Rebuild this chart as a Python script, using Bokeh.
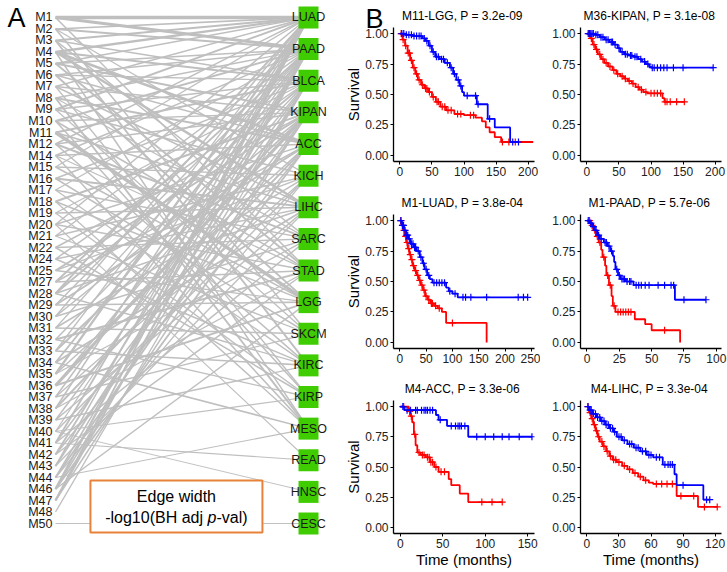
import numpy as np
from bokeh.plotting import figure
from bokeh.layouts import row, column
from bokeh.models import Range1d, Label, FixedTicker, GridBox, Title
from bokeh.embed import file_html
from bokeh.resources import INLINE
from bokeh.core.properties import value

FONT = "Liberation Sans"

# ---------------- Panel A data ----------------
modules = ["M1", "M2", "M3", "M4", "M5", "M6", "M7", "M8", "M9", "M10", "M11", "M12",
           "M14", "M15", "M16", "M17", "M18", "M19", "M20", "M21", "M22", "M24", "M25",
           "M27", "M28", "M29", "M30", "M31", "M32", "M33", "M34", "M35", "M36", "M37",
           "M38", "M39", "M40", "M41", "M42", "M43", "M44", "M46", "M47", "M48", "M50"]
cancers = ["LUAD", "PAAD", "BLCA", "KIPAN", "ACC", "KICH", "LIHC", "SARC", "STAD",
           "LGG", "SKCM", "KIRC", "KIRP", "MESO", "READ", "HNSC", "CESC"]

edge_module = (
    ["M1", "M2", "M3", "M4", "M5", "M7", "M9", "M12", "M15", "M20", "M28", "M30", "M33", "M35", "M38", "M41", "M43", "M46", "M47"]
    + ["M1", "M2", "M5", "M6", "M8", "M10", "M14", "M17", "M21", "M27", "M29", "M31", "M34", "M37", "M40", "M42", "M44", "M47"]
    + ["M3", "M4", "M6", "M9", "M11", "M16", "M19", "M24", "M28", "M32", "M36", "M39", "M43", "M46", "M48"]
    + ["M5", "M7", "M10", "M12", "M18", "M22", "M25", "M30", "M33", "M36", "M41", "M44", "M47"]
    + ["M4", "M6", "M8", "M14", "M20", "M27", "M29", "M35", "M38", "M42", "M46"]
    + ["M2", "M9", "M15", "M21", "M25", "M31", "M37", "M40", "M44"]
    + ["M4", "M7", "M11", "M16", "M19", "M24", "M28", "M34", "M39", "M43"]
    + ["M3", "M8", "M12", "M17", "M22", "M30", "M35", "M41"]
    + ["M1", "M5", "M10", "M14", "M20", "M27", "M32", "M38", "M42"]
    + ["M11", "M6", "M15", "M18", "M25", "M29", "M36", "M46"]
    + ["M2", "M9", "M16", "M21", "M31", "M37"]
    + ["M3", "M12", "M17", "M24", "M28", "M33", "M39"]
    + ["M7", "M10", "M19", "M22", "M32", "M40"]
    + ["M4", "M8", "M14", "M18", "M34", "M44"]
    + ["M20", "M41"]
    + ["M40"]
    + ["M50"]
)
edge_cancer = (["LUAD"] * 19 + ["PAAD"] * 18 + ["BLCA"] * 15 + ["KIPAN"] * 13 + ["ACC"] * 11
               + ["KICH"] * 9 + ["LIHC"] * 10 + ["SARC"] * 8 + ["STAD"] * 9 + ["LGG"] * 8
               + ["SKCM"] * 6 + ["KIRC"] * 7 + ["KIRP"] * 6 + ["MESO"] * 6 + ["READ"] * 2
               + ["HNSC"] * 1 + ["CESC"] * 1)
edge_neglog10p = (
    [9.5, 4, 5, 6, 3.5, 4, 5, 4, 3.5, 4, 5, 4, 3.5, 6, 4, 5, 4, 6, 5]
    + [8, 5, 4, 4, 3.5, 5, 4, 3.5, 4, 5, 4, 3.5, 5, 4, 3.5, 5, 4, 6]
    + [4, 5, 3.5, 4, 5, 4, 3.5, 4, 5, 4, 3.5, 4, 5, 4, 3.5]
    + [5, 4, 3.5, 4, 5, 4, 5, 4, 5, 8.5, 4, 5, 4]
    + [7, 4, 5, 4, 3.5, 4, 5, 4, 5, 4, 5]
    + [3.5, 4, 3.5, 4, 3.5, 4, 3.5, 4, 3.5]
    + [6.5, 4, 4, 5, 4, 3.5, 4, 5, 4, 3.5]
    + [4, 3.5, 5, 4, 3.5, 4, 3.5, 4]
    + [4, 5, 4, 3.5, 4, 4, 5, 3.5, 4]
    + [9, 5, 4, 4, 3.5, 4, 5, 4]
    + [4, 3.5, 4, 3.5, 4, 3.5]
    + [5, 4, 3.5, 4, 3.5, 4, 3.5]
    + [3.5, 4, 3.5, 4, 3.5, 3]
    + [4, 5, 4, 3.5, 4, 3]
    + [3, 3]
    + [2.5]
    + [2.5]
)

# ---------------- Panel B data (Kaplan-Meier) ----------------
km_titles = ["M11-LGG, P =  3.2e-09", "M36-KIPAN, P =  3.1e-08", "M1-LUAD, P =  3.8e-04",
             "M1-PAAD, P =  5.7e-06", "M4-ACC, P =  3.3e-06", "M4-LIHC, P =  3.3e-04"]
km_xticks = [[0, 50, 100, 150, 200], [0, 50, 100, 150, 200], [0, 50, 100, 150, 200, 250],
             [0, 25, 50, 75, 100], [0, 50, 100, 150], [0, 30, 60, 90, 120]]
km_xrange = [(-10, 210), (-10, 210), (-12, 256), (-5, 104), (-8, 158), (-6, 126)]

# M11-LGG
lgg_blue_t = [0, 8, 20, 35, 40, 45, 50, 55, 62, 70, 78, 83, 88, 93, 97, 100, 120, 137, 148, 172, 185]
lgg_blue_s = [1.0, 0.99, 0.98, 0.96, 0.94, 0.90, 0.85, 0.81, 0.79, 0.76, 0.72, 0.67, 0.62, 0.57, 0.52, 0.49, 0.42, 0.30, 0.23, 0.11, 0.11]
lgg_blue_c = [3, 6, 10, 14, 18, 22, 26, 30, 33, 38, 42, 47, 52, 57, 60, 65, 68, 74, 80, 85, 91, 95, 105, 118, 122, 140, 176, 185]
lgg_red_t = [0, 4, 8, 12, 16, 20, 24, 28, 33, 38, 44, 50, 56, 63, 72, 85, 100, 118, 128, 134, 140, 148, 158, 208]
lgg_red_s = [1.0, 0.95, 0.90, 0.84, 0.78, 0.72, 0.67, 0.62, 0.58, 0.55, 0.52, 0.48, 0.44, 0.40, 0.37, 0.34, 0.33, 0.31, 0.28, 0.23, 0.19, 0.15, 0.11, 0.11]
lgg_red_c = [2, 5, 9, 13, 15, 18, 22, 26, 30, 35, 40, 42, 46, 52, 58, 60, 66, 70, 75, 80, 90, 95, 110, 115, 160, 170, 180]

# M36-KIPAN
kipan_blue_t = [0, 12, 20, 28, 35, 42, 48, 52, 58, 65, 72, 80, 86, 92, 97, 100, 197]
kipan_blue_s = [1.0, 0.99, 0.97, 0.95, 0.93, 0.91, 0.88, 0.85, 0.83, 0.82, 0.81, 0.79, 0.77, 0.75, 0.73, 0.72, 0.72]
kipan_blue_c = [2, 4, 6, 8, 10, 14, 17, 22, 25, 30, 33, 38, 40, 44, 50, 55, 60, 63, 68, 70, 75, 78, 84, 90, 95, 102, 105, 110, 115, 120, 125, 135, 150, 197]
kipan_red_t = [0, 5, 9, 13, 17, 22, 27, 33, 40, 46, 52, 58, 64, 70, 76, 82, 88, 94, 118, 121, 152]
kipan_red_s = [1.0, 0.96, 0.91, 0.87, 0.83, 0.79, 0.76, 0.73, 0.70, 0.67, 0.65, 0.63, 0.61, 0.59, 0.56, 0.54, 0.52, 0.51, 0.47, 0.44, 0.44]
kipan_red_c = [3, 7, 11, 15, 20, 25, 30, 36, 42, 48, 55, 60, 66, 72, 80, 85, 92, 100, 105, 110, 115, 122, 125, 130, 140, 152]

# M1-LUAD
luad_blue_t = [0, 4, 8, 12, 16, 20, 26, 32, 38, 43, 47, 52, 57, 62, 88, 93, 100, 110, 243]
luad_blue_s = [1.0, 0.96, 0.92, 0.88, 0.85, 0.81, 0.78, 0.75, 0.70, 0.65, 0.60, 0.55, 0.52, 0.49, 0.45, 0.42, 0.40, 0.37, 0.37]
luad_blue_c = [2, 5, 7, 10, 13, 15, 18, 22, 25, 28, 30, 35, 40, 45, 50, 55, 65, 70, 75, 80, 85, 95, 105, 120, 125, 135, 165, 225, 235, 243]
luad_red_t = [0, 3, 6, 9, 12, 15, 18, 21, 24, 28, 32, 36, 40, 44, 48, 53, 58, 65, 72, 80, 88, 165]
luad_red_s = [1.0, 0.96, 0.92, 0.87, 0.82, 0.77, 0.72, 0.68, 0.63, 0.59, 0.55, 0.51, 0.47, 0.43, 0.38, 0.35, 0.32, 0.30, 0.28, 0.25, 0.16, 0.0]
luad_red_c = [2, 5, 8, 11, 14, 17, 20, 23, 26, 30, 34, 38, 42, 46, 50, 55, 60, 62, 68, 75, 100]

# M1-PAAD
paad_blue_t = [0, 2, 4, 6, 8, 10, 13, 16, 18, 20, 21, 22, 24, 26, 30, 36, 68, 92]
paad_blue_s = [1.0, 0.98, 0.95, 0.92, 0.88, 0.85, 0.82, 0.79, 0.75, 0.71, 0.66, 0.60, 0.55, 0.52, 0.50, 0.47, 0.35, 0.35]
paad_blue_c = [1, 3, 5, 7, 9, 11, 14, 15, 17, 19, 23, 25, 27, 28, 29, 31, 33, 34, 38, 40, 42, 45, 48, 55, 60, 65, 67, 75, 92]
paad_red_t = [0, 3, 5, 7, 9, 11, 12, 14, 15, 17, 19, 20, 22, 37, 45, 50, 72]
paad_red_s = [1.0, 0.96, 0.92, 0.87, 0.82, 0.76, 0.70, 0.63, 0.55, 0.47, 0.38, 0.30, 0.25, 0.19, 0.15, 0.10, 0.0]
paad_red_c = [2, 4, 6, 8, 10, 13, 16, 18, 21, 24, 26, 28, 30, 32, 34, 60]

# M4-ACC
acc_blue_t = [0, 5, 42, 45, 55, 80, 155]
acc_blue_s = [1.0, 0.97, 0.93, 0.89, 0.84, 0.75, 0.75]
acc_blue_c = [3, 8, 12, 18, 20, 25, 28, 30, 32, 35, 38, 47, 60, 65, 68, 70, 72, 76, 90, 100, 110, 120, 128, 140, 155]
acc_red_t = [0, 10, 12, 14, 16, 18, 20, 24, 30, 35, 40, 45, 57, 60, 70, 80, 120]
acc_red_s = [1.0, 0.96, 0.92, 0.87, 0.77, 0.68, 0.62, 0.60, 0.58, 0.54, 0.50, 0.46, 0.40, 0.35, 0.28, 0.21, 0.21]
acc_red_c = [4, 11, 13, 17, 22, 26, 28, 32, 34, 36, 38, 42, 48, 52, 96, 108, 120]

# M4-LIHC
lihc_blue_t = [0, 2, 5, 9, 13, 17, 21, 25, 28, 33, 38, 44, 50, 56, 62, 71, 82, 84, 109, 115]
lihc_blue_s = [1.0, 0.97, 0.94, 0.91, 0.88, 0.85, 0.82, 0.79, 0.75, 0.72, 0.69, 0.66, 0.63, 0.60, 0.58, 0.52, 0.44, 0.35, 0.23, 0.23]
lihc_blue_c = [1, 3, 4, 6, 8, 10, 12, 14, 16, 18, 20, 22, 24, 26, 30, 32, 35, 40, 42, 46, 48, 52, 55, 58, 60, 65, 68, 73, 76, 78, 80, 90, 112, 115]
lihc_red_t = [0, 2, 4, 6, 8, 10, 12, 15, 18, 21, 24, 28, 33, 38, 43, 48, 53, 58, 62, 84, 104, 122]
lihc_red_s = [1.0, 0.95, 0.90, 0.85, 0.80, 0.75, 0.71, 0.67, 0.63, 0.59, 0.56, 0.54, 0.51, 0.48, 0.45, 0.42, 0.39, 0.37, 0.36, 0.26, 0.17, 0.17]
lihc_red_c = [1, 3, 5, 7, 9, 11, 14, 16, 19, 22, 25, 27, 30, 35, 40, 45, 50, 55, 65, 70, 75, 80, 88, 100, 110, 122]

km_data = [
    (lgg_blue_t, lgg_blue_s, lgg_blue_c, lgg_red_t, lgg_red_s, lgg_red_c),
    (kipan_blue_t, kipan_blue_s, kipan_blue_c, kipan_red_t, kipan_red_s, kipan_red_c),
    (luad_blue_t, luad_blue_s, luad_blue_c, luad_red_t, luad_red_s, luad_red_c),
    (paad_blue_t, paad_blue_s, paad_blue_c, paad_red_t, paad_red_s, paad_red_c),
    (acc_blue_t, acc_blue_s, acc_blue_c, acc_red_t, acc_red_s, acc_red_c),
    (lihc_blue_t, lihc_blue_s, lihc_blue_c, lihc_red_t, lihc_red_s, lihc_red_c),
]

# ---------------- Panel A ----------------
H = 572
WA = 337
EDGE_COLOR = "#bfbfbf"
NODE_COLOR = "#3fcc00"

pA = figure(width=WA, height=H, x_range=Range1d(-0.2174, 1.1146), y_range=Range1d(48.26, -1.478),
            output_backend="svg", toolbar_location=None, x_axis_location=None,
            y_axis_location=None, min_border=0)
pA.grid.visible = False
pA.outline_line_color = None

mod_y = {m: i for i, m in enumerate(modules)}
node_y = {c: j * (len(modules) - 1) / (len(cancers) - 1) for j, c in enumerate(cancers)}

ey0 = [mod_y[m] for m in edge_module]
ey1 = [node_y[c] for c in edge_cancer]
lw = [0.38 * v for v in edge_neglog10p]
pA.segment(x0=[0] * len(ey0), y0=ey0, x1=[1] * len(ey1), y1=ey1,
           line_color=EDGE_COLOR, line_width=lw)

ny = [node_y[c] for c in cancers]
pA.rect(x=[1] * len(cancers), y=ny, width=20, height=22, width_units="screen",
        height_units="screen", fill_color=NODE_COLOR, line_color=None)
pA.text(x=[1] * len(cancers), y=ny, text=cancers, text_align="center",
        text_baseline="middle", text_font=value(FONT), text_font_size="12.5px",
        text_color="#1a1a1a")
pA.text(x=[0] * len(modules), y=list(range(len(modules))), text=modules, x_offset=-3,
        text_align="right", text_baseline="middle", text_font=value(FONT),
        text_font_size="12.5px", text_color="#1a1a1a")

# legend box
bx = 0.478
pA.rect(x=[bx], y=[42.52], width=172, height=52, width_units="screen", height_units="screen",
        fill_color="white", line_color="#e8823a", line_width=2)
pA.text(x=[bx], y=[41.62], text=["Edge width"], text_align="center", text_baseline="middle",
        text_font=value(FONT), text_font_size="16px", text_color="black")
pA.text(x=[bx], y=[43.45], text=["-log10(BH adj "], x_offset=31, text_align="right",
        text_baseline="middle", text_font=value(FONT), text_font_size="16px", text_color="black")
pA.text(x=[bx], y=[43.45], text=["p"], x_offset=35.6, text_align="center",
        text_baseline="middle", text_font=value(FONT), text_font_size="16px",
        text_font_style="italic", text_color="black")
pA.text(x=[bx], y=[43.45], text=["-val)"], x_offset=40, text_align="left",
        text_baseline="middle", text_font=value(FONT), text_font_size="16px", text_color="black")

pA.add_layout(Label(x=-0.2174, y=-1.478, x_offset=7, y_offset=-2, text="A", text_baseline="top",
                    text_align="left", text_font=FONT, text_font_size="27px", text_color="black"))


# ---------------- Panel B ----------------
def step_value(t, s, c):
    idx = np.searchsorted(np.asarray(t), np.asarray(c), side="right") - 1
    return list(np.asarray(s)[idx])


KM_W = [203, 187]
KM_H = [187, 187, 198]


def km_fig(k):
    col = k % 2
    r = k // 2
    p = figure(width=KM_W[col], height=KM_H[r], x_range=Range1d(*km_xrange[k]),
               y_range=Range1d(-0.05, 1.05), output_backend="svg", toolbar_location=None,
               min_border_left=56 if col == 0 else 40, min_border_right=6,
               min_border_top=[27, 27, 25][r], min_border_bottom=[26, 26, 39][r],
               title=km_titles[k])
    p.title.align = "center"
    p.title.text_font = FONT
    p.title.text_font_size = "12px"
    p.title.text_font_style = "normal"
    p.title.text_color = "black"
    p.grid.visible = False
    p.outline_line_color = None
    for ax in (p.xaxis[0], p.yaxis[0]):
        ax.axis_line_color = "black"
        ax.axis_line_width = 1.3
        ax.major_tick_line_color = "black"
        ax.major_tick_in = 0
        ax.major_tick_out = 3
        ax.minor_tick_line_color = None
        ax.major_label_text_font = FONT
        ax.major_label_text_font_size = "12px"
        ax.major_label_text_color = "#222222"
        ax.major_label_standoff = 2
        ax.axis_label_text_font = FONT
        ax.axis_label_text_font_size = "15px"
        ax.axis_label_text_font_style = "normal"
        ax.axis_label_text_color = "black"
        ax.axis_label_standoff = 0
    p.xaxis.ticker = FixedTicker(ticks=km_xticks[k])
    p.yaxis.ticker = FixedTicker(ticks=[0, 0.25, 0.5, 0.75, 1.0])
    p.yaxis.major_label_overrides = {0: "0.00", 0.25: "0.25", 0.5: "0.50", 0.75: "0.75", 1.0: "1.00"}
    if col == 0:
        p.yaxis.axis_label = "Survival"
    if r == 2:
        p.xaxis.axis_label = "Time (months)"
    bt, bs, bc, rt, rs, rc = km_data[k]
    p.step(x=rt, y=rs, mode="after", line_color="#ff0000", line_width=1.8)
    p.scatter(x=rc, y=step_value(rt, rs, rc), marker="cross", size=7, line_color="#ff0000",
              line_width=1.2)
    p.step(x=bt, y=bs, mode="after", line_color="#0000ff", line_width=1.8)
    p.scatter(x=bc, y=step_value(bt, bs, bc), marker="cross", size=7, line_color="#0000ff",
              line_width=1.2)
    return p


kms = [km_fig(k) for k in range(6)]

# transparent overlay whose title carries the panel letter "B"
# (its frame is aligned to the KM frame underneath; a title is not clipped to the frame)
pB = figure(width=KM_W[0], height=KM_H[0], x_range=Range1d(0, 1), y_range=Range1d(0, 1),
            output_backend="svg", toolbar_location=None, x_axis_location=None,
            y_axis_location=None, min_border_left=56, min_border_right=6,
            min_border_top=27, min_border_bottom=26, background_fill_color=None,
            border_fill_color=None)
pB.grid.visible = False
pB.outline_line_color = None
pB.title = Title(text="B", align="left", offset=-28, vertical_align="bottom", standoff=-12,
                 text_font=FONT, text_font_size="27px", text_font_style="normal",
                 text_color="black")

top_left = GridBox(children=[(kms[0], 0, 0), (pB, 0, 0)], spacing=0)
layout = row(pA, column(row(top_left, kms[1]), row(kms[2], kms[3]), row(kms[4], kms[5])))

with open("out.html", "w") as f:
    f.write(file_html(layout, INLINE))
